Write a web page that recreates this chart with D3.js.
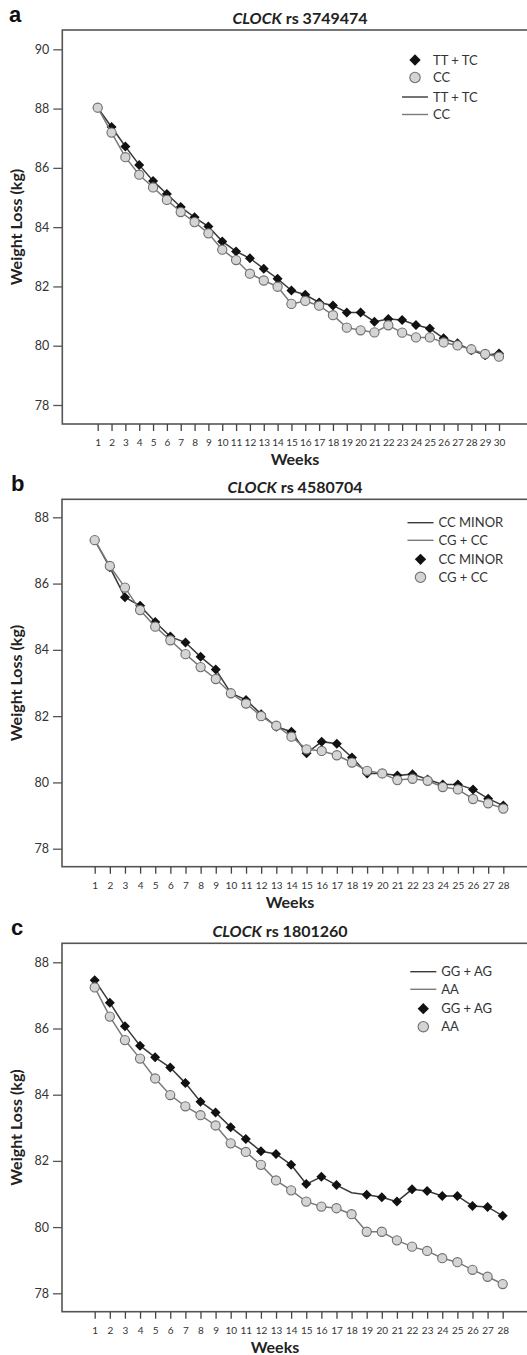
<!DOCTYPE html>
<html>
<head>
<meta charset="utf-8">
<script src="https://cdn.jsdelivr.net/npm/d3@7"></script>
<style>
body { margin: 0; background: #fff; }
svg { display: block; }
text { font-family: Lato, "Liberation Sans", sans-serif; fill: #333; }
</style>
</head>
<body>
<svg id="chart" width="527" height="1355"></svg>
<script>
// ---- panel a : CLOCK rs 3749474
var weeksA = [1,2,3,4,5,6,7,8,9,10,11,12,13,14,15,16,17,18,19,20,21,22,23,24,25,26,27,28,29,30];
var ttTcA = [88.03,87.38,86.72,86.10,85.56,85.12,84.68,84.33,84.02,83.52,83.18,82.95,82.60,82.26,81.86,
             81.72,81.46,81.36,81.12,81.12,80.81,80.90,80.87,80.70,80.58,80.25,80.08,79.85,79.68,79.74];
var ccA   = [88.03,87.19,86.36,85.77,85.34,84.92,84.51,84.17,83.79,83.24,82.89,82.43,82.20,81.99,81.41,
             81.51,81.35,81.03,80.61,80.52,80.45,80.69,80.44,80.28,80.28,80.11,80.01,79.88,79.72,79.63];
var yTicksA = [78,80,82,84,86,88,90];
var legendA = ["TT + TC","CC","TT + TC","CC"];

// ---- panel b : CLOCK rs 4580704
var weeksB = [1,2,3,4,5,6,7,8,9,10,11,12,13,14,15,16,17,18,19,20,21,22,23,24,25,26,27,28];
var ccMinorB = [87.31,86.49,85.59,85.33,84.84,84.40,84.22,83.79,83.41,82.69,82.49,82.06,81.68,81.53,
                80.88,81.23,81.17,80.75,80.27,80.27,80.21,80.25,80.09,79.94,79.94,79.79,79.51,79.30];
var cgCcB    = [87.31,86.53,85.88,85.20,84.70,84.29,83.87,83.48,83.12,82.69,82.38,82.00,81.71,81.38,
                81.00,80.95,80.82,80.60,80.35,80.27,80.07,80.11,80.05,79.86,79.79,79.50,79.37,79.21];
var yTicksB = [78,80,82,84,86,88];
var legendB = ["CC MINOR","CG + CC","CC MINOR","CG + CC"];

// ---- panel c : CLOCK rs 1801260
var weeksC = [1,2,3,4,5,6,7,8,9,10,11,12,13,14,15,16,17,18,19,20,21,22,23,24,25,26,27,28];
var ggAgC = [87.46,86.78,86.07,85.48,85.13,84.82,84.35,83.79,83.46,83.02,82.66,82.29,82.21,81.88,
             81.30,81.52,81.27,81.04,80.98,80.90,80.77,81.14,81.09,80.94,80.94,80.64,80.61,80.34];
var aaC   = [87.24,86.36,85.65,85.09,84.49,83.99,83.65,83.38,83.07,82.53,82.27,81.88,81.41,81.11,
             80.77,80.62,80.57,80.39,79.86,79.86,79.60,79.41,79.28,79.06,78.94,78.71,78.50,78.28];
var noMarkerC = [18]; // the GG + AG line has no diamond at week 18
var yTicksC = [78,80,82,84,86,88];
var legendC = ["GG + AG","AA","GG + AG","AA"];

var DARK_LINE = "#3a3a3a", LIGHT_LINE = "#7a7a7a";

function Panel(cfg) {
	this.cfg = cfg;
}

Panel.prototype.Draw = function(svg)
{
	var c = this.cfg;
	var g = svg.append("g");

	var x = d3.scaleLinear()
		.domain([c.weeks[0], c.weeks[c.weeks.length - 1]])
		.range([c.xFirst, c.xLast]);
	var y = d3.scaleLinear()
		.domain([c.yTicks[0], c.yTicks[c.yTicks.length - 1]])
		.range([c.yLowPx, c.yHighPx]);

	// letter + title
	g.append("text").attr("x", c.letterX).attr("y", c.top - 8)
		.style("font-family", "'Liberation Sans', Arial, sans-serif")
		.style("font-weight", "bold").style("font-size", "22px").style("fill", "#111")
		.text(c.letter);
	var title = g.append("text").attr("x", c.titleX).attr("y", c.top - 6)
		.attr("text-anchor", "middle").style("font-weight", "bold").style("font-size", "16px").style("fill", "#222");
	title.append("tspan").style("font-style", "italic").text("CLOCK");
	title.append("tspan").text(" rs " + c.rs);

	// frame
	g.append("rect").attr("x", c.left).attr("y", c.top)
		.attr("width", 540 - c.left).attr("height", c.bottom - c.top)
		.style("fill", "none").style("stroke", "#555").style("stroke-width", 1.6);

	// axes
	var yAxis = g.append("g").attr("transform", "translate(" + c.left + ",0)")
		.call(d3.axisLeft(y).tickValues(c.yTicks).tickSize(9).tickPadding(4));
	yAxis.select(".domain").remove();
	yAxis.selectAll("line").style("stroke", "#555").style("stroke-width", 1.3);
	yAxis.selectAll("text").style("font-size", "12.5px").style("fill", "#333").style("font-family", "Lato, sans-serif");

	var xAxis = g.append("g").attr("transform", "translate(0," + c.bottom + ")")
		.call(d3.axisBottom(x).tickValues(c.weeks).tickSize(7).tickPadding(8));
	xAxis.select(".domain").remove();
	xAxis.selectAll("line").style("stroke", "#444").style("stroke-width", 1.3);
	xAxis.selectAll("text").style("font-size", "10px").style("fill", "#333").style("font-family", "Lato, sans-serif");

	g.append("text").attr("x", c.titleX - 5).attr("y", c.bottom + 41)
		.attr("text-anchor", "middle").style("font-weight", "bold").style("font-size", "16px").style("fill", "#222")
		.text("Weeks");
	g.append("text").attr("transform", "translate(22," + ((c.top + c.bottom) / 2) + ") rotate(-90)")
		.attr("text-anchor", "middle").style("font-weight", "bold").style("font-size", "16px").style("fill", "#222")
		.text("Weight Loss (kg)");

	// series
	var line = d3.line().x(function(d) { return x(d.w); }).y(function(d) { return y(d.v); });
	var dark = c.weeks.map(function(w, i) { return {w: w, v: c.dark[i]}; });
	var light = c.weeks.map(function(w, i) { return {w: w, v: c.light[i]}; });
	var skip = c.noMarker || [];
	var diamond = d3.symbol().type(d3.symbolSquare).size(50);

	g.append("path").datum(dark).attr("d", line)
		.style("fill", "none").style("stroke", DARK_LINE).style("stroke-width", 1.5);
	g.selectAll(".dia").data(dark.filter(function(d) { return skip.indexOf(d.w) < 0; }))
		.enter().append("path").attr("class", "dia")
		.attr("transform", function(d) { return "translate(" + x(d.w) + "," + y(d.v) + ") rotate(45)"; })
		.attr("d", diamond).style("fill", "#111");

	g.append("path").datum(light).attr("d", line)
		.style("fill", "none").style("stroke", LIGHT_LINE).style("stroke-width", 1.5);
	g.selectAll(".circ").data(light)
		.enter().append("circle").attr("class", "circ")
		.attr("cx", function(d) { return x(d.w); }).attr("cy", function(d) { return y(d.v); })
		.attr("r", 4.6).style("fill", "#d4d4d4").style("stroke", "#6f6f6f").style("stroke-width", 1.1);

	// legend
	var lg = g.append("g");
	for (var i = 0; i < c.legendOrder.length; i++)
	{
		var kind = c.legendOrder[i], ly = c.legendY[i];
		if (kind == "lineDark" || kind == "lineLight") {
			lg.append("line").attr("x1", c.legendX - 13).attr("x2", c.legendX + 13)
				.attr("y1", ly).attr("y2", ly)
				.style("stroke", kind == "lineDark" ? DARK_LINE : LIGHT_LINE).style("stroke-width", 1.4);
		} else if (kind == "dia") {
			lg.append("path").attr("transform", "translate(" + c.legendX + "," + ly + ") rotate(45)")
				.attr("d", d3.symbol().type(d3.symbolSquare).size(64)).style("fill", "#111");
		} else {
			lg.append("circle").attr("cx", c.legendX).attr("cy", ly).attr("r", 5.2)
				.style("fill", "#d4d4d4").style("stroke", "#6f6f6f").style("stroke-width", 1.1);
		}
		lg.append("text").attr("x", c.legendX + 18).attr("y", ly + 4.5)
			.style("font-size", "13px").style("fill", "#333").text(c.legend[i]);
	}
}

var svg = d3.select("#chart");

new Panel({
	letter: "a", letterX: 9, rs: "3749474", titleX: 300,
	top: 30, bottom: 424, left: 62.3,
	weeks: weeksA, dark: ttTcA, light: ccA, yTicks: yTicksA,
	xFirst: 97.7, xLast: 499, yLowPx: 405, yHighPx: 49.3,
	legend: legendA, legendOrder: ["dia", "circ", "lineDark", "lineLight"],
	legendX: 415, legendY: [60, 77.5, 97, 114.5]
}).Draw(svg);

new Panel({
	letter: "b", letterX: 11, rs: "4580704", titleX: 295,
	top: 499.3, bottom: 866.7, left: 62,
	weeks: weeksB, dark: ccMinorB, light: cgCcB, yTicks: yTicksB,
	xFirst: 94.7, xLast: 503.3, yLowPx: 848.7, yHighPx: 517.3,
	legend: legendB, legendOrder: ["lineDark", "lineLight", "dia", "circ"],
	legendX: 420.5, legendY: [522.7, 540.3, 559.3, 577.3]
}).Draw(svg);

new Panel({
	letter: "c", letterX: 11, rs: "1801260", titleX: 280,
	top: 943.3, bottom: 1311.7, left: 62,
	weeks: weeksC, dark: ggAgC, light: aaC, yTicks: yTicksC, noMarker: noMarkerC,
	xFirst: 94.7, xLast: 502.7, yLowPx: 1293.3, yHighPx: 962.3,
	legend: legendC, legendOrder: ["lineDark", "lineLight", "dia", "circ"],
	legendX: 423.3, legendY: [971.7, 989.3, 1008.7, 1026.7]
}).Draw(svg);
</script>
</body>
</html>
